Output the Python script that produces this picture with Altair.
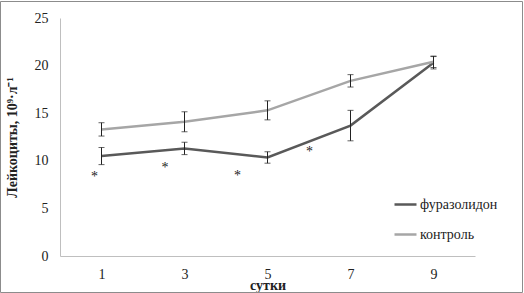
import altair as alt
import pandas as pd

days = [1, 3, 5, 7, 9]
furaz = [10.5, 11.3, 10.35, 13.7, 20.3]
furaz_err = [0.9, 0.65, 0.6, 1.6, 0.65]
control = [13.3, 14.1, 15.3, 18.4, 20.4]
control_err = [0.7, 1.05, 1.0, 0.65, 0.6]
series_names = ["фуразолидон", "контроль"]
star_x = [0.83, 2.53, 4.28, 6.01]
star_y = [8.7, 9.7, 8.85, 11.3]

rows = []
for d, v, e in zip(days, furaz, furaz_err):
    rows.append({"day": d, "value": v, "lo": v - e, "hi": v + e, "series": series_names[0]})
for d, v, e in zip(days, control, control_err):
    rows.append({"day": d, "value": v, "lo": v - e, "hi": v + e, "series": series_names[1]})
df = pd.DataFrame(rows)
stars = pd.DataFrame({"x": star_x, "y": star_y, "t": ["*"] * len(star_x)})

FONT = "'Times New Roman', 'Liberation Serif', serif"

xscale = alt.Scale(domain=[0, 10], nice=False, zero=False)
yscale = alt.Scale(domain=[0, 25], nice=False)

base = alt.Chart(df)

lines = base.mark_line(strokeWidth=2.5).encode(
    x=alt.X("day:Q", scale=xscale,
            axis=alt.Axis(values=days, title="сутки", titleFontWeight="bold",
                          titleY=33, titleBaseline="alphabetic", format="d",
                          labelPadding=11)),
    y=alt.Y("value:Q", scale=yscale,
            axis=alt.Axis(values=[0, 5, 10, 15, 20, 25], title="Лейкоциты, 10⁹·л⁻¹",
                          titleFontWeight="bold", titleX=-41, labelPadding=12)),
    color=alt.Color("series:N",
                    scale=alt.Scale(domain=series_names, range=["#595959", "#a6a6a6"]),
                    legend=alt.Legend(title=None, orient="none", legendX=333, legendY=174,
                                      symbolType="stroke", symbolSize=484,
                                      symbolStrokeWidth=2.5, labelOffset=2, rowPadding=10)),
    detail="series:N",
)

rules = base.mark_rule(color="#222", strokeWidth=1).encode(
    x="day:Q", y="lo:Q", y2="hi:Q")
caps_lo = base.mark_tick(color="#222", thickness=1, size=6, orient="horizontal").encode(
    x="day:Q", y="lo:Q")
caps_hi = base.mark_tick(color="#222", thickness=1, size=6, orient="horizontal").encode(
    x="day:Q", y="hi:Q")

star_marks = alt.Chart(stars).mark_text(font=FONT, fontSize=14, color="#222",
                                        baseline="alphabetic", dy=8).encode(
    x=alt.X("x:Q", scale=xscale), y=alt.Y("y:Q", scale=yscale), text="t:N")

border = alt.Chart(pd.DataFrame({"a": [0]})).mark_rect(
    fill=None, stroke="#8c8c8c", strokeWidth=1).encode(
    x=alt.value(-59.5), x2=alt.value(462.5), y=alt.value(-16.5), y2=alt.value(274.5))

chart = alt.layer(lines, rules, caps_lo, caps_hi, star_marks, border).properties(
    width=415, height=238,
    padding={"left": 60, "top": 18, "right": 49, "bottom": 37},
    autosize=alt.AutoSizeParams(type="none"),
    background="white",
).configure_view(stroke=None).configure_axis(
    labelFont=FONT, labelFontSize=14, labelColor="#222",
    titleFont=FONT, titleFontSize=14, titleColor="#222",
    grid=False, ticks=False, domainColor="#bfbfbf",
).configure_legend(
    labelFont=FONT, labelFontSize=14, labelColor="#222",
)

chart.save("out.html", embed_options={"renderer": "svg", "actions": False})
